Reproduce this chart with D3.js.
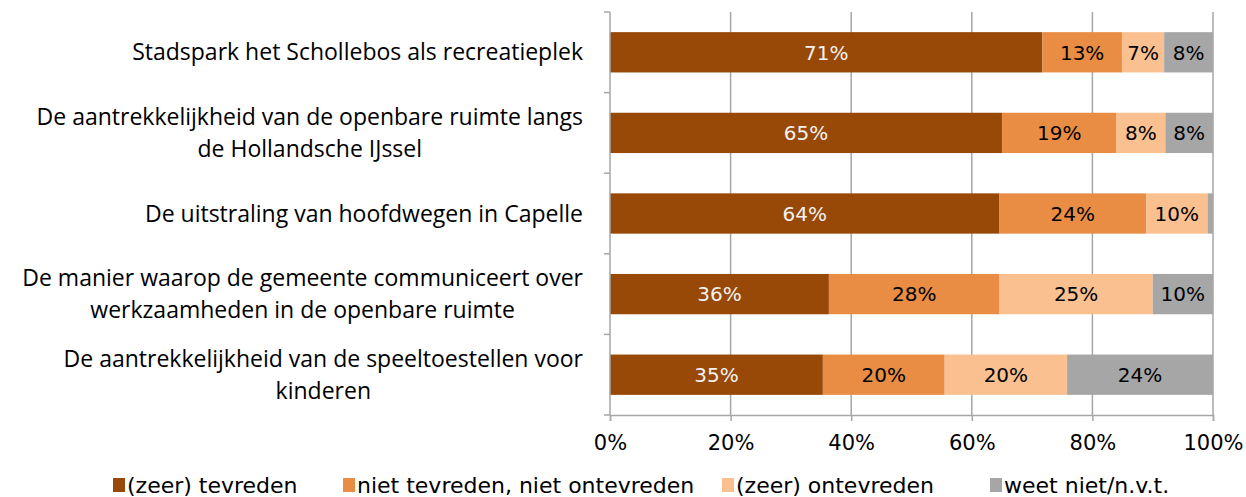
<!DOCTYPE html>
<html>
<head>
<meta charset="utf-8">
<script src="https://cdn.jsdelivr.net/npm/d3@7"></script>
<style>
  body { margin: 0; background: #fff; }
  svg text { fill: #000; }
</style>
</head>
<body>
<div id="chart"></div>
<script>
// Data (percent)
const categories = [
  ["Stadspark het Schollebos als recreatieplek"],
  ["De aantrekkelijkheid van de openbare ruimte langs", "de Hollandsche IJssel"],
  ["De uitstraling van hoofdwegen in Capelle"],
  ["De manier waarop de gemeente communiceert over", "werkzaamheden in de openbare ruimte"],
  ["De aantrekkelijkheid van de speeltoestellen voor", "kinderen"]
];
const seriesNames = ["(zeer) tevreden", "niet tevreden, niet ontevreden", "(zeer) ontevreden", "weet niet/n.v.t."];
const tevreden   = [71.7, 65.0, 64.6, 36.3, 35.3];
const neutraal   = [13.2, 19.0, 24.3, 28.3, 20.2];
const ontevreden = [7.0, 8.1, 10.2, 25.4, 20.3];
const weetNiet   = [8.1, 7.9, 0.9, 10.0, 24.2];
const labelsTevreden   = ["71%", "65%", "64%", "36%", "35%"];
const labelsNeutraal   = ["13%", "19%", "24%", "28%", "20%"];
const labelsOntevreden = ["7%", "8%", "10%", "25%", "20%"];
const labelsWeetNiet   = ["8%", "8%", "", "10%", "24%"];
const xTicks = [0, 20, 40, 60, 80, 100];

const colors = ["#984807", "#E98D44", "#FAC090", "#A6A6A6"];
const labelColors = ["#f2f2f2", "#000", "#000", "#000"];

const W = 1246, H = 497;
const margin = { top: 12, right: 33, bottom: 82, left: 610 };
const width = W - margin.left - margin.right,
  height = H - margin.top - margin.bottom;

const numFont = "'DejaVu Sans', Verdana, sans-serif";

const svg = d3.select("#chart").append("svg")
  .attr("width", W)
  .attr("height", H);
const g = svg.append("g")
  .attr("transform", "translate(" + margin.left + "," + margin.top + ")");

const x = d3.scaleLinear().domain([0, 100]).range([0, width]);
const y = d3.scaleBand().domain(d3.range(categories.length)).range([0, height])
  .paddingInner(0.5).paddingOuter(0.25);

// gridlines
g.selectAll(".grid").data(xTicks.slice(1)).enter().append("line")
  .attr("x1", d => x(d)).attr("x2", d => x(d))
  .attr("y1", 0).attr("y2", height)
  .attr("stroke", "#a6a6a6").attr("stroke-width", 1.5);

// stacked data
const values = [tevreden, neutraal, ontevreden, weetNiet];
const labels = [labelsTevreden, labelsNeutraal, labelsOntevreden, labelsWeetNiet];
const rows = categories.map((c, i) => {
  let start = 0;
  return values.map((s, k) => {
    const seg = { row: i, k: k, x0: start, x1: start + s[i], label: labels[k][i] };
    start += s[i];
    return seg;
  });
}).flat();

g.selectAll(".seg").data(rows).enter().append("rect")
  .attr("x", d => x(d.x0))
  .attr("width", d => x(d.x1) - x(d.x0))
  .attr("y", d => y(d.row))
  .attr("height", y.bandwidth())
  .attr("fill", d => colors[d.k]);

g.selectAll(".lab").data(rows.filter(d => d.label)).enter().append("text")
  .attr("x", d => x((d.x0 + d.x1) / 2))
  .attr("y", d => y(d.row) + y.bandwidth() / 2)
  .attr("dy", "0.36em")
  .attr("text-anchor", "middle")
  .style("font-family", numFont)
  .style("font-size", "20px")
  .style("fill", d => labelColors[d.k])
  .text(d => d.label);

// left axis with ticks on band boundaries
g.append("line").attr("x1", 0).attr("x2", 0).attr("y1", 0).attr("y2", height)
  .attr("stroke", "#a6a6a6").attr("stroke-width", 1.5);
g.selectAll(".ytick").data(d3.range(categories.length + 1)).enter().append("line")
  .attr("x1", -6).attr("x2", 0)
  .attr("y1", d => d * height / categories.length)
  .attr("y2", d => d * height / categories.length)
  .attr("stroke", "#a6a6a6").attr("stroke-width", 1.5);

// bottom axis
const xAxis = g.append("g")
  .attr("transform", "translate(0," + height + ")")
  .call(d3.axisBottom(x).tickValues(xTicks).tickFormat(d => d + "%").tickSize(6).tickPadding(14));
xAxis.select(".domain").attr("stroke", "#a6a6a6").attr("stroke-width", 1.5);
xAxis.selectAll(".tick line").attr("stroke", "#a6a6a6").attr("stroke-width", 1.5);
xAxis.selectAll("text")
  .style("font-family", numFont)
  .style("font-size", "21px").attr("fill", "#000");

// category labels: block right-aligned, lines centred within the block
const catFont = "'Open Sans', sans-serif";
categories.forEach((lines, i) => {
  const cy = y(i) + y.bandwidth() / 2;
  const lh = 32;
  const grp = svg.append("g");
  const texts = lines.map((t, j) => grp.append("text")
    .attr("y", margin.top + cy + (j - (lines.length - 1) / 2) * lh)
    .attr("dy", "0.35em")
    .attr("text-anchor", "middle")
    .style("font-family", catFont)
    .style("font-size", "23px")
    .text(t));
  const maxW = d3.max(texts, t => t.node().getComputedTextLength());
  texts.forEach(t => t.attr("x", 583 - maxW / 2));
});

// legend
const legendX = [113, 343, 722, 990];
const legend = svg.selectAll(".leg").data(seriesNames).enter().append("g")
  .attr("transform", (d, i) => "translate(" + legendX[i] + ",485)");
legend.append("rect").attr("x", 0).attr("y", -7).attr("width", 12).attr("height", 14)
  .attr("fill", (d, i) => colors[i]);
legend.append("text").attr("x", 14).attr("dy", "0.36em")
  .style("font-family", numFont)
  .style("font-size", "22px")
  .text(d => d);
</script>
</body>
</html>
